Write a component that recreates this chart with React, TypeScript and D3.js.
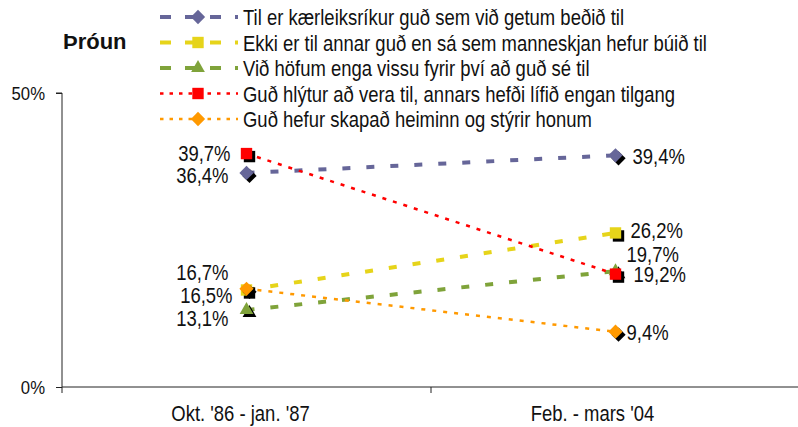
import React, { useEffect, useRef } from 'react';
import * as d3 from 'd3';

const categories = ["Okt. '86 - jan. '87", "Feb. - mars '04"];
const seriesNames = [
  'Til er kærleiksríkur guð sem við getum beðið til',
  'Ekki er til annar guð en sá sem manneskjan hefur búið til',
  'Við höfum enga vissu fyrir því að guð sé til',
  'Guð hlýtur að vera til, annars hefði lífið engan tilgang',
  'Guð hefur skapað heiminn og stýrir honum',
];
const seriesValues = [
  [36.4, 39.4],
  [16.5, 26.2],
  [13.1, 19.7],
  [39.7, 19.2],
  [16.7, 9.4],
];
const yTicks = [0, 50];

// styles per series
const colors = ['#666699', '#e6d41a', '#7fa33a', '#ff0000', '#ff9900'];
const markerTypes = ['diamond', 'square', 'triangle', 'square', 'diamond'];
const dashes = ['8,16', '8,16', '8,16', '4,7', '4,7'];
const legendDashes = ['11,14', '11,14', '11,14', '3.5,6', '3.5,6'];
const widths = [4, 4, 4, 2.5, 2.5];
// label offsets [left dx, left dy, right dx, right dy]
const labelOffsets = [
  [-18, 2, 17, 1],
  [-14, 5, 15, -3],
  [-18, 8, 11, -17],
  [-16, -1, 18, 0],
  [-18, -17, 11, 0],
];
const catLabelDx = [-6, -23];

const FONT = "'Liberation Sans', Arial, sans-serif";
const SX = 0.84; // horizontal squeeze to mimic a narrow face

const fmt = (v: number) => `${v.toFixed(1).replace('.', ',')}%`;

const App: React.FC = () => {
  const svgRef = useRef<SVGSVGElement>(null);

  useEffect(() => {
    if (!svgRef.current) return;
    const svg = d3.select(svgRef.current);
    svg.selectAll('*').remove();

    const x = d3.scaleBand().domain(categories).range([62, 800]);
    const y = d3.scaleLinear().domain([0, 50]).range([387, 93]);
    const cx = (c: string) => x(c)! + x.bandwidth() / 2;

    const ntext = (g: any, px: number, py: number, str: string, size: number, anchor = 'start', sx = SX) =>
      g.append('text')
        .attr('transform', `translate(${px},${py}) scale(${sx},1)`)
        .attr('text-anchor', anchor)
        .attr('font-family', FONT).attr('font-size', size).attr('fill', '#111')
        .text(str);

    const symbolFor = (t: string) => {
      if (t === 'diamond') return d3.symbol().type(d3.symbolDiamond2).size(130)();
      if (t === 'square') return d3.symbol().type(d3.symbolSquare2).size(165)();
      return d3.symbol().type(d3.symbolTriangle2).size(135)();
    };
    const drawMarker = (g: any, t: string, color: string, px: number, py: number, shadow: boolean) => {
      if (shadow) {
        g.append('path').attr('d', symbolFor(t))
          .attr('transform', `translate(${px + 3},${py + 3})`)
          .attr('fill', '#000');
      }
      g.append('path').attr('d', symbolFor(t))
        .attr('transform', `translate(${px},${py})`)
        .attr('fill', color);
    };

    // title
    svg.append('text').attr('x', 63).attr('y', 49).text('Þróun')
      .attr('font-family', FONT)
      .attr('font-weight', 'bold').attr('font-size', 22).attr('fill', '#111');

    // y axis
    const gy = svg.append('g').attr('transform', 'translate(62,0)')
      .call(d3.axisLeft(y).tickValues(yTicks).tickSize(6).tickFormat(() => ''));
    gy.select('.domain').attr('stroke', '#222').attr('d', `M-6,${y(50)}H0V${y(0) + 6}`);
    gy.selectAll('line').attr('stroke', '#222');
    yTicks.forEach(t => ntext(svg, 45, y(t) + 7, `${t}%`, 19, 'end', 0.88));

    // x axis
    const gx = svg.append('g').attr('transform', `translate(0,${y(0)})`)
      .call(d3.axisBottom(x).tickSize(0).tickFormat(() => ''));
    gx.select('.domain').attr('stroke', '#222').attr('d', 'M62,0H798');
    gx.selectAll('.sep').data(categories.slice(1)).enter().append('line')
      .attr('x1', d => x(d)!).attr('x2', d => x(d)!).attr('y1', 0).attr('y2', 6).attr('stroke', '#222');
    categories.forEach((c, i) => ntext(svg, cx(c) + catLabelDx[i], 421, c, 22, 'middle'));

    // lines
    const line = d3.line<number>().x((_, i) => cx(categories[i])).y(d => y(d));
    const plot = svg.append('g');
    seriesValues.forEach((vals, s) => {
      plot.append('path').datum(vals).attr('d', line)
        .attr('fill', 'none').attr('stroke', colors[s])
        .attr('stroke-width', widths[s]).attr('stroke-dasharray', dashes[s]);
    });
    const mk = svg.append('g');
    seriesValues.forEach((vals, s) => {
      vals.forEach((v, i) => drawMarker(mk, markerTypes[s], colors[s], cx(categories[i]), y(v), true));
    });

    // data labels
    const lbl = svg.append('g');
    seriesValues.forEach((vals, s) => {
      const o = labelOffsets[s];
      ntext(lbl, cx(categories[0]) + o[0], y(vals[0]) + o[1] + 8, fmt(vals[0]), 22, 'end');
      ntext(lbl, cx(categories[1]) + o[2], y(vals[1]) + o[3] + 8, fmt(vals[1]), 22, 'start');
    });

    // legend
    const leg = svg.append('g');
    seriesNames.forEach((name, s) => {
      const ly = 17 + s * 25.5;
      const row = leg.append('g');
      row.append('line').attr('x1', 160).attr('x2', 238).attr('y1', ly).attr('y2', ly)
        .attr('stroke', colors[s]).attr('stroke-width', widths[s]).attr('stroke-dasharray', legendDashes[s]);
      drawMarker(row, markerTypes[s], colors[s], 198, ly, false);
      ntext(row, 243, ly + 8, name, 22, 'start');
    });
  }, []);

  return (
    <svg ref={svgRef} width={798} height={427}
      style={{ position: 'absolute', left: 0, top: 0, background: '#fff' }} />
  );
};

export default App;
